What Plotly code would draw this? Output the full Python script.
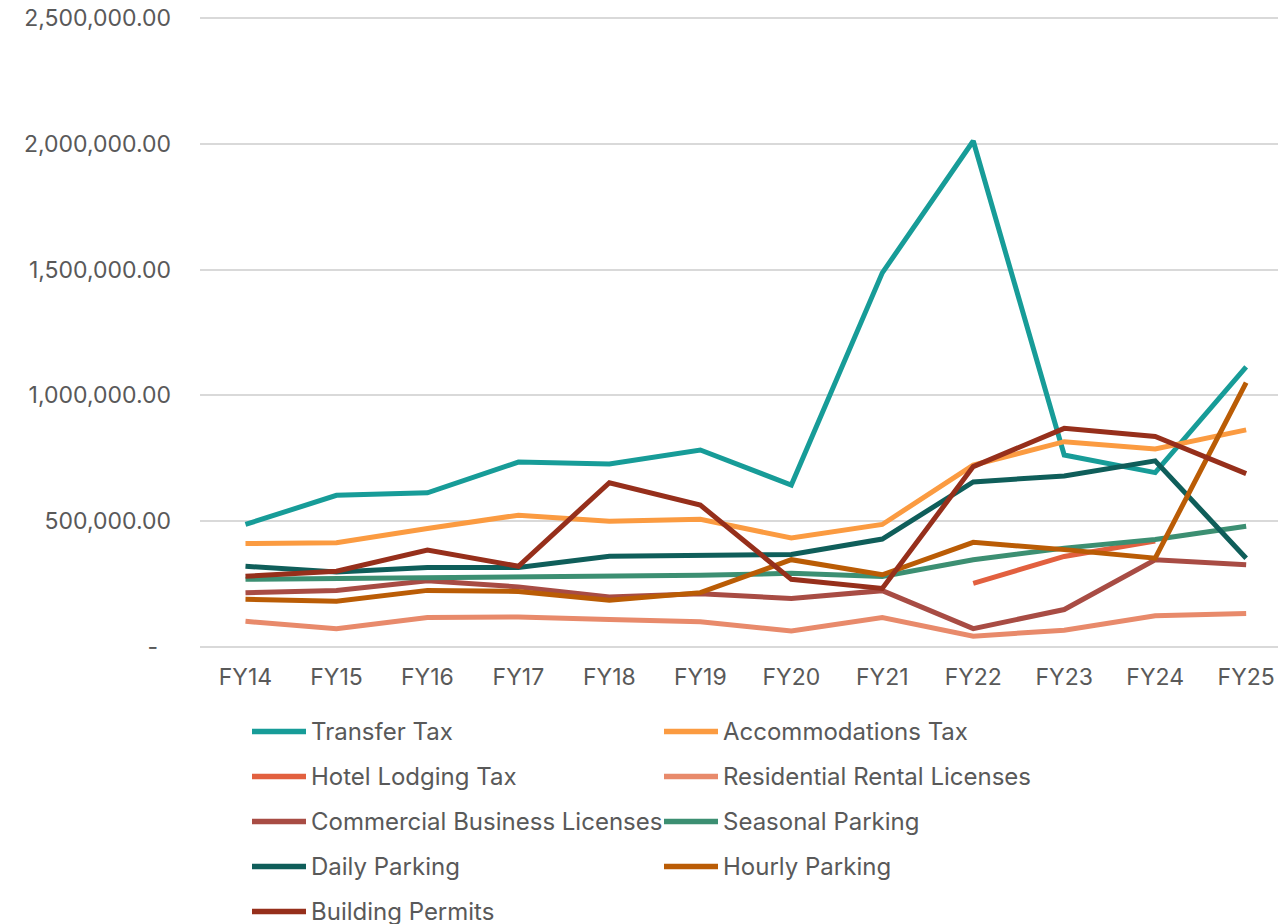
import plotly.graph_objects as go

years = ["FY14", "FY15", "FY16", "FY17", "FY18", "FY19", "FY20", "FY21", "FY22", "FY23", "FY24", "FY25"]

transfer_tax = [487000, 603000, 613000, 735000, 727000, 783000, 644000, 1487000, 2011000, 763000, 693000, 1113000]
accommodations_tax = [411000, 414000, 471000, 524000, 500000, 508000, 433000, 487000, 723000, 816000, 787000, 863000]
hotel_lodging_tax = [None, None, None, None, None, None, None, None, 253000, 360000, 421000, None]
residential_rental = [102000, 73000, 117000, 119000, 109000, 100000, 64000, 117000, 43000, 67000, 124000, 133000]
commercial_business = [216000, 225000, 263000, 239000, 199000, 212000, 193000, 224000, 73000, 149000, 347000, 327000]
seasonal_parking = [269000, 272000, 278000, 281000, 286000, 285000, 293000, 280000, 347000, 393000, 427000, 480000]
daily_parking = [321000, 298000, 316000, 316000, 361000, 363000, 368000, 429000, 656000, 680000, 740000, 353000]
hourly_parking = [190000, 182000, 225000, 221000, 186000, 216000, 347000, 287000, 416000, 387000, 353000, 1051000]
building_permits = [281000, 301000, 385000, 321000, 653000, 564000, 269000, 233000, 717000, 869000, 837000, 689000]

names = ["Transfer Tax", "Accommodations Tax", "Hotel Lodging Tax", "Residential Rental Licenses",
         "Commercial Business Licenses", "Seasonal Parking", "Daily Parking", "Hourly Parking",
         "Building Permits"]
series = [transfer_tax, accommodations_tax, hotel_lodging_tax, residential_rental,
          commercial_business, seasonal_parking, daily_parking, hourly_parking, building_permits]
colors = ["#179c98", "#fb9b41", "#e2603f", "#e88a6b", "#a84c44", "#3c8f72", "#0f5e5a", "#ba5c05", "#962f1b"]

y_ticks = [0, 500000, 1000000, 1500000, 2000000, 2500000]
y_ticktext = ["-\u00a0\u00a0", "500,000.00", "1,000,000.00", "1,500,000.00", "2,000,000.00", "2,500,000.00"]

W, H = 1278, 924
L, R, T, B = 200, 0, 15, 277
text_color = "#595959"
font_family = "Inter, Liberation Sans, Arial, sans-serif"

fig = go.Figure()
for name, vals, col in zip(names, series, colors):
    fig.add_scatter(x=years, y=vals, name=name, mode="lines",
                    line=dict(color=col, width=5), showlegend=False)

# legend drawn by hand: two columns, 45px rows
pw, ph = W - L - R, H - T - B
def px(x):
    return (x - L) / pw
def py(y):
    return (H - B - y) / ph

col_x = [252, 664]
for i, (name, col) in enumerate(zip(names, colors)):
    cx = col_x[i % 2]
    cy = 731.5 + 45 * (i // 2)
    fig.add_shape(type="line", xref="paper", yref="paper",
                  x0=px(cx), x1=px(cx + 54), y0=py(cy), y1=py(cy),
                  line=dict(color=col, width=5.5))
    fig.add_annotation(xref="paper", yref="paper", x=px(cx + 57), y=py(cy),
                       text=name, showarrow=False, xanchor="left", yanchor="middle",
                       font=dict(size=24, color=text_color, family=font_family))

# top gridline sits 3px below the plot edge so plotly does not clip it
y_top = 2500000 * ph / (ph - 3)

fig.update_xaxes(range=[-0.5, 11.35], showgrid=False, showline=False, zeroline=False,
                 ticks="", ticklabelstandoff=14, automargin=False,
                 tickfont=dict(size=23, color=text_color, family=font_family))
fig.update_yaxes(range=[0, y_top], tickvals=y_ticks, ticktext=y_ticktext,
                 showgrid=True, gridcolor="#d9d9d9", gridwidth=1.5,
                 zeroline=True, zerolinecolor="#d9d9d9", zerolinewidth=1.5,
                 showline=False, ticks="", ticklabelstandoff=28, automargin=False,
                 tickfont=dict(size=23, color=text_color, family=font_family))
fig.update_layout(width=W, height=H, margin=dict(l=L, r=R, t=T, b=B, autoexpand=False),
                  plot_bgcolor="white", paper_bgcolor="white",
                  font=dict(family=font_family, color=text_color))

fig.write_html("out.html", config={"displayModeBar": False},
               post_script="document.body.style.margin='0';")
